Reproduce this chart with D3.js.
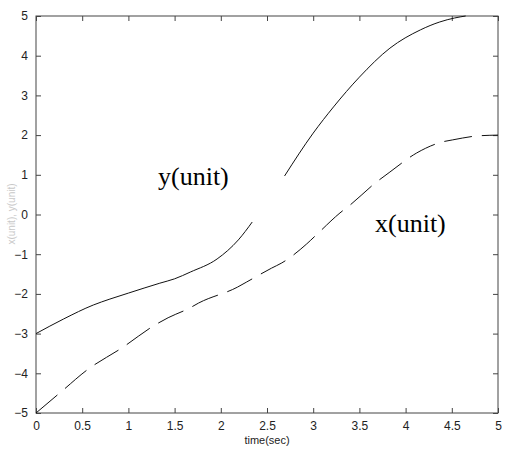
<!DOCTYPE html>
<html><head><meta charset="utf-8">
<script src="https://cdn.jsdelivr.net/npm/d3@7/dist/d3.min.js"></script>
<style>body{margin:0;background:#fff}svg{display:block}</style>
</head><body><svg id="c" width="505" height="457"></svg>
<script>
const xTicks = [0,0.5,1,1.5,2,2.5,3,3.5,4,4.5,5];
const yTicks = [-5,-4,-3,-2,-1,0,1,2,3,4,5];
// solid curve: y(unit)  (null = gap in the trace)
const yTime = [0,0.3,0.62,0.8,1.0,1.34,1.5,1.67,1.96,2.19,2.34,2.5,2.69,3.0,3.22,3.5,3.83,4.16,4.37,4.53,4.65];
const yVals = [-3,-2.63,-2.28,-2.13,-1.98,-1.73,-1.62,-1.45,-1.12,-0.64,-0.19,null,0.97,2.05,2.71,3.46,4.19,4.65,4.85,4.95,5.0];
// dashed curve: x(unit)
const xTime = [0,0.28,0.55,0.93,1.29,1.43,1.66,1.76,2.18,2.28,2.55,2.66,2.93,3.04,3.29,3.4,3.67,3.83,4.12,4.4,4.51,4.78,5.0];
const xVals = [-5,-4.45,-3.92,-3.36,-2.78,-2.6,-2.36,-2.23,-1.83,-1.70,-1.35,-1.22,-0.74,-0.5,0.04,0.24,0.79,1.07,1.55,1.83,1.88,1.98,2.0];

const svg = d3.select("#c");
const L=36, R=498, T=16, B=413;
const x = d3.scaleLinear().domain([0,5]).range([L,R]);
const y = d3.scaleLinear().domain([-5,5]).range([B,T]);
const axisColor = "#444";
const font = "'Liberation Sans', Arial, sans-serif";

function style(g, hideText){
  g.select(".domain").remove();
  g.selectAll(".tick line").attr("stroke",axisColor);
  g.selectAll("text").attr("fill","#222").style("font-family",font).style("font-size","12px");
  if(hideText) g.selectAll("text").remove();
}
svg.append("g").attr("transform",`translate(0,${B})`)
  .call(d3.axisBottom(x).tickValues(xTicks).tickFormat(d3.format("")).tickSizeInner(-5).tickPadding(8))
  .call(g=>style(g,false));
svg.append("g").attr("transform",`translate(0,${T})`)
  .call(d3.axisTop(x).tickValues(xTicks).tickSizeInner(-5)).call(g=>style(g,true));
svg.append("g").attr("transform",`translate(${L},0)`)
  .call(d3.axisLeft(y).tickValues(yTicks).tickFormat(d3.format("")).tickSizeInner(-5).tickPadding(8))
  .call(g=>style(g,false));
svg.append("g").attr("transform",`translate(${R},0)`)
  .call(d3.axisRight(y).tickValues(yTicks).tickSizeInner(-5)).call(g=>style(g,true));
svg.append("rect").attr("x",L).attr("y",T).attr("width",R-L).attr("height",B-T)
  .attr("fill","none").attr("stroke",axisColor).attr("stroke-width",1);

const lineY = d3.line().defined(d=>d[1]!==null).x(d=>x(d[0])).y(d=>y(d[1])).curve(d3.curveMonotoneX);
svg.append("path").datum(yTime.map((t,i)=>[t,yVals[i]])).attr("d",lineY)
  .attr("fill","none").attr("stroke","#111").attr("stroke-width",1);
const lineX = d3.line().x(d=>x(d[0])).y(d=>y(d[1])).curve(d3.curveMonotoneX);
svg.append("path").datum(xTime.map((t,i)=>[t,xVals[i]])).attr("d",lineX)
  .attr("fill","none").attr("stroke","#111").attr("stroke-width",1).attr("stroke-dasharray","28,10");

svg.append("text").attr("x",158).attr("y",185).text("y(unit)")
  .style("font-family","'Liberation Serif','Times New Roman',serif").style("font-size","26px").attr("fill","#000");
svg.append("text").attr("x",375).attr("y",232).text("x(unit)")
  .style("font-family","'Liberation Serif','Times New Roman',serif").style("font-size","26px").attr("fill","#000");
svg.append("text").attr("x",(L+R)/2).attr("y",444).attr("text-anchor","middle").text("time(sec)")
  .style("font-family",font).style("font-size","11px").attr("fill","#222");
svg.append("text").attr("transform","translate(15,214) rotate(-90)").attr("text-anchor","middle")
  .text("x(unit), y(unit)").style("font-family",font).style("font-size","10px").attr("fill","#c8c8c8");
</script></body></html>
